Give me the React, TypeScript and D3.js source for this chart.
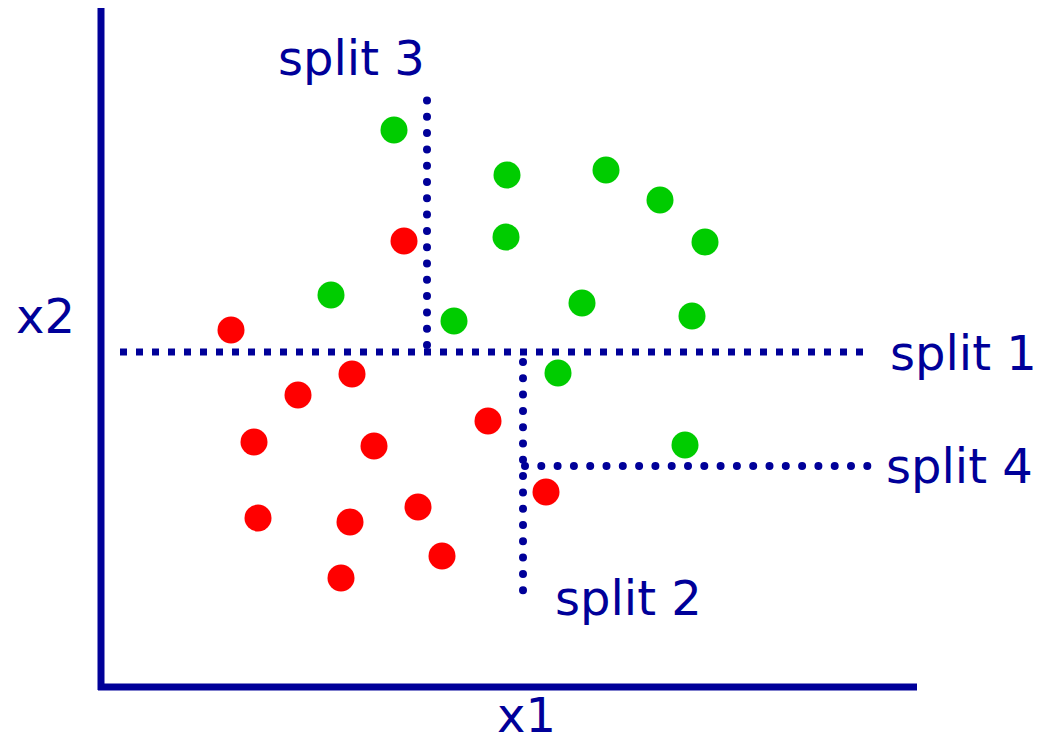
import React from "react";
import * as d3 from "d3";

// data in plot units (origin at axis corner)
const greenX = [293, 406, 505, 559, 604, 405, 230, 353, 481, 591, 457, 584];
const greenY = [557, 512, 517, 487, 445, 450, 392, 366, 384, 371, 314, 242];
const redX = [303, 130, 251, 197, 153, 273, 387, 445, 157, 249, 317, 341, 240];
const redY = [446, 357, 313, 292, 245, 241, 266, 195, 169, 165, 180, 131, 109];

// splits: [x1, y1, x2, y2]
const splitNames = ["split 1", "split 2", "split 3", "split 4"];
const splitLines = [
  [19, 335, 764, 335],
  [422, 325, 422, 89],
  [326, 342, 326, 589],
  [424, 221, 771, 221],
];
const splitLabelPos = [
  [789, 317],
  [454, 72],
  [177, 612],
  [785, 204],
];

const W = 1049;
const H = 743;
const NAVY = "#000099";

export default function App() {
  const x = d3.scaleLinear().domain([0, 816]).range([101, 917]);
  const y = d3.scaleLinear().domain([0, 680]).range([687, 7]);
  const font = "'Comic Sans MS', 'DejaVu Sans', sans-serif";
  const fs = 48;
  const line = d3.line<[number, number]>().x((d) => x(d[0])).y((d) => y(d[1]));

  return (
    <svg
      width={W}
      height={H}
      style={{ position: "absolute", left: 0, top: 0, background: "#fff" }}
    >
      {/* axes */}
      <line x1={x(0)} y1={y(679)} x2={x(0)} y2={y(-3)} stroke={NAVY} strokeWidth={7} />
      <line x1={x(-3)} y1={y(0)} x2={x(816)} y2={y(0)} stroke={NAVY} strokeWidth={7} />
      <text x={x(-85)} y={y(354)} fill={NAVY} fontFamily={font} fontSize={fs}>x2</text>
      <text x={x(396)} y={y(-45)} fill={NAVY} fontFamily={font} fontSize={fs}>x1</text>

      {/* splits */}
      {splitLines.map((s, i) => (
        <path
          key={"s" + i}
          d={line([[s[0], s[1]], [s[2], s[3]]]) || ""}
          stroke={NAVY}
          fill="none"
          strokeWidth={i === 0 ? 7 : 8}
          strokeDasharray={i === 0 ? "7 9" : "0 16.3"}
          strokeLinecap={i === 0 ? "butt" : "round"}
        />
      ))}
      {splitNames.map((n, i) => (
        <text
          key={"l" + i}
          x={x(splitLabelPos[i][0])}
          y={y(splitLabelPos[i][1])}
          fill={NAVY}
          fontFamily={font}
          fontSize={fs}
        >
          {n}
        </text>
      ))}

      {/* points */}
      {greenX.map((gx, i) => (
        <circle key={"g" + i} cx={x(gx)} cy={y(greenY[i])} r={13.5} fill="#00cc00" />
      ))}
      {redX.map((rx, i) => (
        <circle key={"r" + i} cx={x(rx)} cy={y(redY[i])} r={13.5} fill="#ff0000" />
      ))}
    </svg>
  );
}
